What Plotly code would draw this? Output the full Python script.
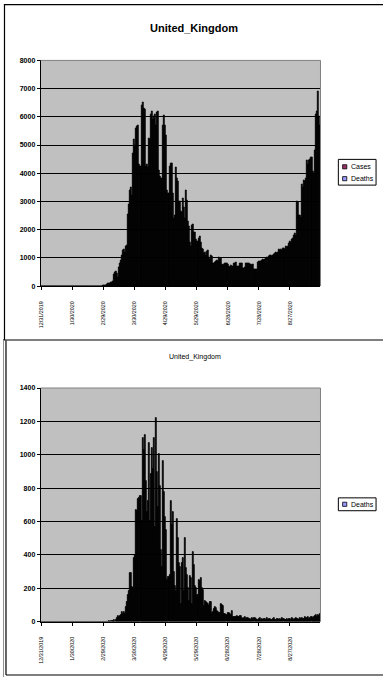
import pandas as pd
import plotly.graph_objects as go

# ---------------- data ----------------
start_date = "2019-12-31"

cases = (
    [0, 0, 0, 0, 0, 0, 0, 0, 0, 0]
    + [0, 0, 0, 0, 0, 0, 0, 0, 0, 0]
    + [0, 0, 0, 0, 0, 0, 0, 0, 0, 0]
    + [0, 2, 0, 0, 0, 0, 0, 0, 0, 0]
    + [1, 0, 0, 0, 0, 0, 0, 0, 4, 0]
    + [0, 0, 0, 0, 0, 0, 4, 2, 5, 3]
    + [10, 12, 13, 40, 60, 90, 100, 80, 120, 180]
    + [400, 500, 520, 450, 300, 650, 800, 900, 1100, 1250]
    + [1300, 1200, 1400, 1450, 2550, 2900, 3400, 3500, 3200, 4700]
    + [5200, 5000, 5600, 5650, 5700, 4300, 4250, 6400, 6500, 6300]
    + [6250, 4250, 4300, 4200, 5250, 5200, 6100, 6200, 5900, 6000]
    + [6100, 5700, 6150, 6200, 4100, 3900, 3800, 3800, 5700, 6050]
    + [5700, 5350, 3400, 3300, 4250, 4350, 4350, 3300, 2400, 2500]
    + [4200, 3800, 3700, 3000, 3000, 2650, 2600, 3100, 2800, 2400]
    + [3400, 3050, 2300, 2100, 1550, 1400, 2150, 2200, 1900, 1900]
    + [1650, 1600, 1700, 1750, 1550, 1350, 1300, 1150, 1200, 1100]
    + [1230, 1250, 1000, 950, 1100, 1050, 820, 800, 850, 880]
    + [900, 870, 1000, 950, 980, 760, 740, 780, 820, 800]
    + [760, 700, 650, 720, 690, 700, 820, 800, 840, 700]
    + [680, 700, 820, 810, 790, 640, 620, 650, 820, 800]
    + [820, 800, 780, 760, 740, 760, 600, 580, 590, 850]
    + [870, 880, 860, 900, 940, 920, 950, 980, 1000, 970]
    + [1050, 1100, 1080, 1060, 1100, 1120, 1150, 1180, 1170, 1200]
    + [1290, 1250, 1300, 1280, 1350, 1300, 1400, 1380, 1420, 1500]
    + [1600, 1550, 1650, 1700, 1800, 1850, 1800, 3000, 2950, 2500]
    + [2500, 2450, 3600, 3500, 3750, 3700, 3800, 4450, 4300, 4450]
    + [4500, 4560, 4050, 4000, 4800, 6100, 6200, 6900, 6030, 5700]
)

deaths = (
    [0] * 10 + [0] * 10 + [0] * 10 + [0] * 10 + [0] * 10 + [0] * 10
    + [0, 0, 0, 0, 0, 0, 1, 0, 2, 1]
    + [8, 0, 10, 20, 35, 25, 33, 40, 56, 48]
    + [60, 43, 90, 115, 160, 185, 290, 290, 210, 200]
    + [380, 400, 670, 660, 735, 740, 755, 605, 1100, 1030]
    + [1120, 845, 655, 725, 1070, 600, 885, 1040, 913, 1100]
    + [567, 1220, 894, 686, 1002, 815, 430, 330, 963, 775]
    + [627, 548, 251, 270, 280, 725, 577, 656, 300, 211]
    + [182, 617, 498, 350, 330, 103, 350, 380, 182, 498]
    + [320, 281, 200, 123, 271, 260, 103, 420, 340, 211]
    + [200, 160, 250, 245, 261, 200, 190, 95, 123, 118]
    + [113, 108, 93, 120, 115, 53, 60, 73, 85, 80]
    + [63, 60, 53, 50, 103, 100, 93, 43, 45, 40]
    + [53, 50, 43, 40, 63, 28, 30, 25, 28, 34]
    + [30, 25, 34, 32, 20, 18, 22, 25, 15, 20]
    + [24, 18, 14, 12, 20, 16, 22, 18, 12, 10]
    + [15, 20, 12, 18, 10, 14, 16, 12, 20, 8]
    + [14, 18, 12, 10, 16, 20, 12, 8, 15, 18]
    + [10, 14, 12, 20, 16, 8, 12, 15, 10, 14]
    + [18, 12, 20, 14, 10, 16, 22, 14, 18, 12]
    + [20, 16, 24, 14, 18, 26, 20, 22, 28, 18]
    + [24, 30, 20, 26, 34, 38, 30, 40, 36, 44]
)

tick_labels = ["12/31/2019", "1/30/2020", "2/29/2020", "3/30/2020", "4/29/2020",
               "5/29/2020", "6/28/2020", "7/28/2020", "8/27/2020"]

series_names = ["Cases", "Deaths"]
chart_title = "United_Kingdom"

# ---------------- styling ----------------
W, H = 383, 680
swatch_colors = {"Cases": "#993366", "Deaths": "#9999FF"}
FONT = "Liberation Sans, Arial, sans-serif"

n = min(len(cases), len(deaths))
dates = [f"{d.month}/{d.day}/{d.year}" for d in pd.date_range(start_date, periods=n)]


def px(x):
    return x / W


def py(y):
    return 1 - y / H


fig = go.Figure()
bar_style = dict(marker=dict(color="black", line=dict(color="black", width=0.8)),
                 showlegend=False, hoverinfo="skip")
fig.add_trace(go.Bar(x=dates, y=cases[:n], name="Cases", xaxis="x", yaxis="y", **bar_style))
fig.add_trace(go.Bar(x=dates, y=deaths[:n], name="Deaths", xaxis="x2", yaxis="y2", **bar_style))

xdom = [px(38), px(320)]
xaxis_common = dict(
    type="category", domain=xdom, showline=True, linecolor="black", linewidth=1,
    showgrid=False, zeroline=False, ticks="outside", ticklen=3, tickcolor="black",
    tickvals=tick_labels, ticktext=tick_labels, tickangle=-90,
    tickfont=dict(family=FONT, size=5.4, color="black"), ticklabelstandoff=9,
    range=[-0.5, n - 0.5],
)
yaxis_common = dict(
    showline=True, linecolor="black", linewidth=1, showgrid=True, gridcolor="black",
    gridwidth=1, zeroline=False, ticks="outside", ticklen=3, tickcolor="black",
    tickfont=dict(family=FONT, size=7, color="black", weight="bold"), tick0=0,
)

fig.update_layout(
    width=W, height=H, autosize=False,
    margin=dict(l=0, r=0, t=0, b=0),
    paper_bgcolor="white", plot_bgcolor="#C0C0C0",
    barmode="overlay", bargap=0,
    showlegend=False,
    xaxis=dict(anchor="y", **xaxis_common),
    yaxis=dict(anchor="x", domain=[py(285), py(57)], range=[0, 8000], dtick=1000, **yaxis_common),
    xaxis2=dict(anchor="y2", **xaxis_common),
    yaxis2=dict(anchor="x2", domain=[py(624), py(388)], range=[0, 1400], dtick=200, **yaxis_common),
)

shapes = []
annotations = []

# gray top/right plot borders
for top, bot in [(57, 285), (388, 624)]:
    shapes.append(dict(type="path", xref="paper", yref="paper", layer="above",
                       path=f"M {px(38)},{py(top)} L {px(320)},{py(top)} L {px(320)},{py(bot)}",
                       line=dict(color="#808080", width=1)))

# chart-area frames
frame = dict(color="black", width=1.2)
shapes += [
    dict(type="line", xref="paper", yref="paper", x0=px(1.5), x1=px(1.5), y0=py(0), y1=py(339.5), line=frame),
    dict(type="line", xref="paper", yref="paper", x0=px(1.5), x1=px(383), y0=py(0.6), y1=py(0.6), line=frame),
    dict(type="line", xref="paper", yref="paper", x0=px(0), x1=px(383), y0=py(339.5), y1=py(339.5), line=frame),
    dict(type="line", xref="paper", yref="paper", x0=px(3), x1=px(3), y0=py(340), y1=py(678), line=frame),
    dict(type="line", xref="paper", yref="paper", x0=px(0.5), x1=px(0.5), y0=py(340), y1=py(680),
         line=dict(color="#909090", width=1)),
    dict(type="line", xref="paper", yref="paper", x0=px(3), x1=px(383), y0=py(678), y1=py(678), line=frame),
]

# titles
annotations.append(dict(x=px(193), y=py(24), xref="paper", yref="paper", text=chart_title,
                        showarrow=False, xanchor="center", yanchor="middle",
                        font=dict(family=FONT, size=11, color="black", weight="bold")))
annotations.append(dict(x=px(194), y=py(357), xref="paper", yref="paper", text=chart_title,
                        showarrow=False, xanchor="center", yanchor="middle",
                        font=dict(family=FONT, size=7, color="black")))


# legends
def legend_box(x0, y0, x1, y1, names, row_ys):
    shapes.append(dict(type="rect", xref="paper", yref="paper", x0=px(x0), x1=px(x1),
                       y0=py(y1), y1=py(y0), fillcolor="white",
                       line=dict(color="black", width=1)))
    for name, yy in zip(names, row_ys):
        shapes.append(dict(type="rect", xref="paper", yref="paper", x0=px(342.3), x1=px(346.5),
                           y0=py(yy + 2.1), y1=py(yy - 2.1), fillcolor=swatch_colors[name],
                           line=dict(color="black", width=0.8)))
        annotations.append(dict(x=px(348.5), y=py(yy), xref="paper", yref="paper", text=name,
                                showarrow=False, xanchor="left", yanchor="middle",
                                font=dict(family=FONT, size=7, color="black")))


legend_box(338, 157, 376, 183, series_names, [164.5, 176.5])
legend_box(338, 499, 376, 512, ["Deaths"], [505.5])

fig.update_layout(shapes=shapes, annotations=annotations)
fig.write_html(
    "out.html",
    config={"displayModeBar": False},
    post_script="document.body.style.margin='0';document.body.style.overflow='hidden';",
)
